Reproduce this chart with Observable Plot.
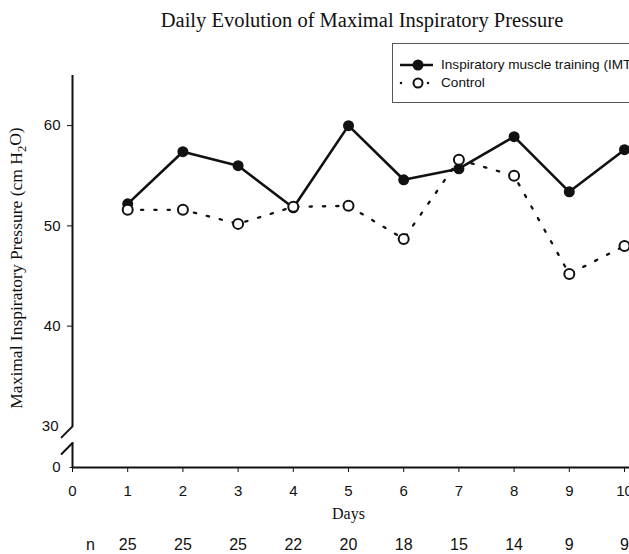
<!DOCTYPE html>
<html><head><meta charset="utf-8">
<script src="https://cdn.jsdelivr.net/npm/d3@7"></script>
<script src="https://cdn.jsdelivr.net/npm/@observablehq/plot@0.6"></script>
<style>
html,body{margin:0;padding:0;background:#fff;overflow:hidden}
#wrap{position:relative;width:629px;height:554px;overflow:hidden}
#legend{position:absolute;left:392px;top:43px;width:270px;height:58px;border:1px solid #555;background:#fff;font-family:"Liberation Sans",Arial,sans-serif;font-size:13.6px;color:#111}
#legend .row{position:absolute;left:0;height:18px;display:flex;align-items:center;white-space:nowrap}
#legend svg{display:block}
</style></head><body><div id="wrap"></div>
<script>
const days = [1, 2, 3, 4, 5, 6, 7, 8, 9, 10];
const imtValues = [52.2, 57.4, 56.0, 51.8, 60.0, 54.6, 55.7, 58.9, 53.4, 57.6];
const controlValues = [51.6, 51.6, 50.2, 51.9, 52.0, 48.7, 56.6, 55.0, 45.2, 48.0];
const nCounts = [25, 25, 25, 22, 20, 18, 15, 14, 9, 9];
const xTicks = [0, 1, 2, 3, 4, 5, 6, 7, 8, 9, 10];
const yTicks = [40, 50, 60];
const yZeroTick = [0];
const yBreakTick = [30];
const axisBreaks = [30, 17.9];
const seriesNames = ["Inspiratory muscle training (IMT)", "Control"];
const title = "Daily Evolution of Maximal Inspiratory Pressure";
const yLabel = "Maximal Inspiratory Pressure (cm H2O)";
const xLabel = "Days";
const nLabel = "n";

const imt = days.map((d, i) => ({day: d, value: imtValues[i]}));
const control = days.map((d, i) => ({day: d, value: controlValues[i]}));
const nRow = days.map((d, i) => ({day: d, n: nCounts[i]}));

const sans = '"Liberation Sans", Arial, sans-serif';
const serif = '"Liberation Serif", "Times New Roman", serif';
const ink = "#111";

// broken axis: below 30 the scale is compressed
const breakAt = 30, squeeze = 41 / 300;
const brokenY = v => v >= breakAt ? v : breakAt - (breakAt - v) * squeeze;

const slash = {draw(context, l) { context.moveTo(0, l / 2); context.lineTo(0, -l / 2); }};
const tickShape = {draw(context, l) { context.moveTo(0, 0); context.lineTo(0, -l); }};

const chart = Plot.plot({
  width: 629, height: 554,
  marginLeft: 72, marginRight: 0, marginTop: 75, marginBottom: 87,
  style: {fontFamily: sans, fontSize: "15px", color: ink, background: "#fff", overflow: "hidden"},
  x: {domain: [0, 10], range: [72, 624]},
  y: {transform: brokenY, range: [467, 75]},
  marks: [
    Plot.axisY({ticks: yTicks, tickSize: 5, tickPadding: 7, label: null, fontSize: 15, tickFormat: d => String(d)}),
    Plot.axisY({ticks: yBreakTick, tickSize: 0, tickPadding: 14, label: null, fontSize: 15, tickFormat: d => String(d)}),
    Plot.axisX({ticks: xTicks, tickSize: 5, tickPadding: 13, label: null, fontSize: 15, tickFormat: d => String(d)}),
    Plot.vector(yZeroTick, {x: () => 0, y: d => d, length: 5, rotate: -90, shape: tickShape, stroke: ink, strokeWidth: 1}),
    Plot.text(yZeroTick, {x: () => 0, y: d => d, text: d => String(d), textAnchor: "end", dx: -12, fontSize: 15, fill: ink}),
    Plot.ruleX([0], {y1: 30, y2: 65, stroke: ink, strokeWidth: 2}),
    Plot.ruleX([0], {y1: 0, y2: axisBreaks[1], stroke: ink, strokeWidth: 2}),
    Plot.ruleY([0], {stroke: ink, strokeWidth: 2}),
    Plot.vector(axisBreaks, {x: () => 0, y: d => d, length: 15.5, rotate: 45, shape: slash, stroke: ink, strokeWidth: 2}),
    Plot.line(imt, {x: "day", y: "value", stroke: ink, strokeWidth: 2.6}),
    Plot.dot(imt, {x: "day", y: "value", r: 5.5, fill: ink}),
    Plot.line(control, {x: "day", y: "value", stroke: ink, strokeWidth: 2.3, strokeDasharray: "2.3,11"}),
    Plot.dot(control, {x: "day", y: "value", r: 5, fill: "#fff", stroke: ink, strokeWidth: 2}),
    Plot.text([title], {frameAnchor: "top", textAnchor: "middle", lineAnchor: "middle", dx: 11, dy: -55, fontFamily: serif, fontSize: 20.5, fill: ink}),
    Plot.text([yLabel], {frameAnchor: "left", textAnchor: "middle", lineAnchor: "middle", rotate: -90, dx: -56, dy: -3.5, fontFamily: serif, fontSize: 17.5, fill: ink}),
    Plot.text([xLabel], {frameAnchor: "bottom", textAnchor: "middle", lineAnchor: "middle", dx: -2.5, dy: 46, fontFamily: serif, fontSize: 16, fill: ink}),
    Plot.text([nLabel], {frameAnchor: "bottom-left", textAnchor: "middle", lineAnchor: "middle", dx: 18, dy: 77, fontSize: 16, fill: ink}),
    Plot.text(nRow, {x: "day", text: d => String(d.n), frameAnchor: "bottom", textAnchor: "middle", lineAnchor: "middle", dy: 77, fontSize: 16, fill: ink})
  ]
});

// subscript for H2O
d3.select(chart).selectAll("text").filter(function() { return this.textContent === yLabel; }).each(function() {
  const t = d3.select(this);
  t.text(null);
  t.append("tspan").text("Maximal Inspiratory Pressure (cm H");
  t.append("tspan").attr("dy", "0.32em").attr("font-size", "0.72em").text("2");
  t.append("tspan").attr("dy", "-0.32em").text("O)");
});

const wrap = document.getElementById("wrap");
wrap.appendChild(chart);

// legend
const legend = d3.select(wrap).append("div").attr("id", "legend");
const rows = [{y: 11.7, kind: "imt"}, {y: 29.7, kind: "control"}];
rows.forEach((r, i) => {
  const row = legend.append("div").attr("class", "row").style("top", r.y + "px");
  const sw = row.append("svg").attr("width", 48).attr("height", 18);
  if (r.kind === "imt") {
    sw.append("line").attr("x1", 7).attr("x2", 40).attr("y1", 9).attr("y2", 9).attr("stroke", ink).attr("stroke-width", 2.6);
    sw.append("circle").attr("cx", 25).attr("cy", 9).attr("r", 5.5).attr("fill", ink);
  } else {
    [8, 35].forEach(x => sw.append("rect").attr("x", x - 1.1).attr("y", 7.9).attr("width", 2.2).attr("height", 2.2).attr("fill", ink));
    sw.append("circle").attr("cx", 25).attr("cy", 9).attr("r", 4.5).attr("fill", "#fff").attr("stroke", ink).attr("stroke-width", 2);
  }
  row.append("span").text(seriesNames[i]);
});
</script></body></html>
